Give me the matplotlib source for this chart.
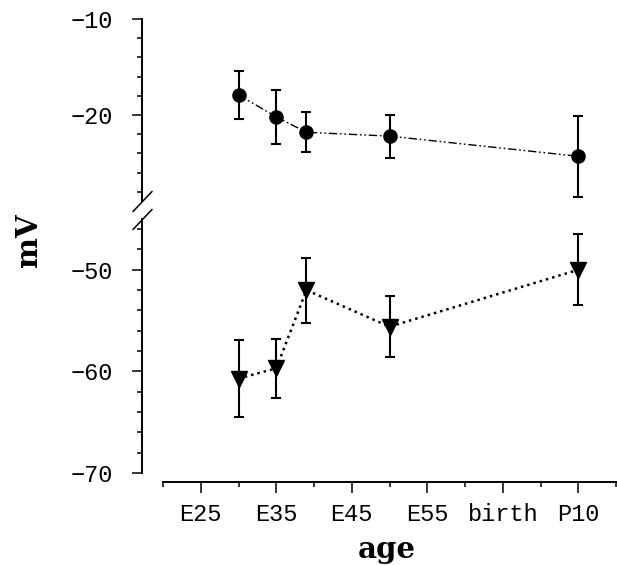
import matplotlib
matplotlib.use("Agg")
import matplotlib.pyplot as plt
from matplotlib.ticker import MultipleLocator, FixedLocator
from matplotlib.transforms import ScaledTranslation

# age in days (E = embryonic, P = postnatal; birth ~ day 65)
ages = [30, 35, 39, 50, 75]
tick_pos = [25, 35, 45, 55, 65, 75]
tick_labels = ["E25", "E35", "E45", "E55", "birth", "P10"]

# resting potential (upper) and threshold (lower), mean +/- error
rest_mv = [-17.9, -20.2, -21.8, -22.2, -24.3]
rest_err = [2.5, 2.8, 2.1, 2.25, 4.2]
thresh_mv = [-60.7, -59.7, -52.0, -55.6, -50.0]
thresh_err = [3.8, 2.9, 3.2, 3.0, 3.5]

DPI = 100
fig = plt.figure(figsize=(6.17, 5.65), dpi=DPI)
ax_top = fig.add_axes([0.2642, 0.6435, 0.7342, 0.3229])
ax_bot = fig.add_axes([0.2642, 0.1628, 0.7342, 0.4496])

tick_font = {"family": "Liberation Mono", "size": 17}
label_font = {"family": "DejaVu Serif", "weight": "bold", "size": 21}

for ax in (ax_top, ax_bot):
    ax.set_xlim(20, 80)
    for side in ("top", "right"):
        ax.spines[side].set_visible(False)
    ax.spines["left"].set_position(("outward", 15))
    ax.spines["left"].set_linewidth(1.4)
    ax.yaxis.set_major_locator(MultipleLocator(10))
    ax.yaxis.set_minor_locator(MultipleLocator(2))
    ax.tick_params(axis="y", which="major", direction="out", length=7, width=1.1, pad=14)
    ax.tick_params(axis="y", which="minor", direction="out", length=3.6, width=1.1)

ax_top.set_ylim(-29, -10)
ax_bot.set_ylim(-70, -45)

ax_top.spines["bottom"].set_visible(False)
ax_top.tick_params(axis="x", which="both", bottom=False, labelbottom=False)

ax_bot.spines["bottom"].set_position(("outward", 6.5))
ax_bot.spines["bottom"].set_linewidth(1.4)
ax_bot.xaxis.set_major_locator(FixedLocator(tick_pos))
ax_bot.set_xticklabels(tick_labels, **tick_font)
ax_bot.xaxis.set_minor_locator(MultipleLocator(10))
ax_bot.tick_params(axis="x", which="major", direction="out", length=8, width=1.1, pad=7)
ax_bot.tick_params(axis="x", which="minor", direction="out", length=3.6, width=1.1)

for lab in ax_top.get_yticklabels() + ax_bot.get_yticklabels():
    lab.set_fontfamily(tick_font["family"])
    lab.set_fontsize(tick_font["size"])

# connecting lines
ax_top.plot(ages, rest_mv, color="black", lw=1.0,
            linestyle=(0, (6, 2, 1.2, 2, 1.2, 2)), zorder=2)
ax_bot.plot(ages, thresh_mv, color="black", lw=1.8,
            linestyle=(0, (1, 1.6)), zorder=2)

# error bars and markers
ax_top.errorbar(ages, rest_mv, yerr=rest_err, fmt="o", color="black",
                ms=9.5, elinewidth=1.5, capsize=3.5, capthick=1.5, zorder=3)
ax_bot.errorbar(ages, thresh_mv, yerr=thresh_err, fmt="v", color="black",
                ms=11, elinewidth=1.5, capsize=3.5, capthick=1.5, zorder=3)

# break marks on the y axis
shift = ScaledTranslation(-21 / DPI, 0, fig.dpi_scale_trans)
slash = [(-1, -1.05), (1, 1.05)]
ax_top.plot([0], [0], transform=ax_top.transAxes + shift, marker=slash,
            ms=15, mew=1.1, color="black", clip_on=False)
ax_bot.plot([0], [1], transform=ax_bot.transAxes + shift, marker=slash,
            ms=15, mew=1.1, color="black", clip_on=False)

fig.text(29 / 617, 1 - 240 / 565, "mV", rotation=90, ha="center", va="center", **label_font)
fig.text(387 / 617, 7 / 565, "age", ha="center", va="baseline", **label_font)

fig.savefig("out.png", dpi=DPI)
